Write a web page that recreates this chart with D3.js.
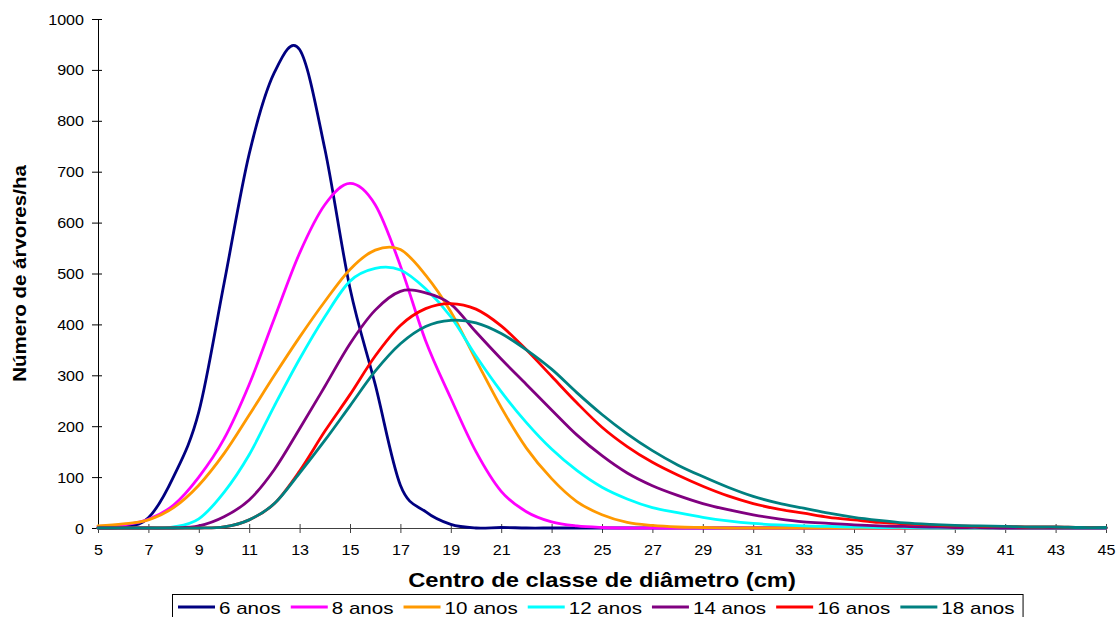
<!DOCTYPE html>
<html><head><meta charset="utf-8">
<script src="https://cdn.jsdelivr.net/npm/d3@7"></script>
<style>
body{margin:0;background:#fff;overflow:hidden}
text{font-family:"Liberation Sans",Arial,sans-serif;fill:#000}
</style>
</head><body>
<svg id="chart" width="1120" height="617"></svg>
<script>
// ---- data ----
const diameters = [5,6,7,8,9,10,11,12,13,14,15,16,17,18,19,20,21,22,23,24,25,26,27,28,29,30,31,32,33,34,35,36,37,38,39,40,41,42,43,44,45];
const seriesNames = ["6 anos","8 anos","10 anos","12 anos","14 anos","16 anos","18 anos"];
const seriesColors = ["#000080","#FF00FF","#FF9900","#00FFFF","#800080","#FF0000","#008080"];
const anos6  = [0,2,20,101,228,480,735,895,940,745,471,282,84,32,7,0,1,0,0,0,0,0,0,0,0,0,0,0,0,0,0,0,0,0,0,0,0,0,0,0,0];
const anos8  = [3,6,17,45,100,175,282,412,540,635,677,635,515,368,255,150,72,32,12,4,1,0,0,0,0,0,0,0,0,0,0,0,0,0,0,0,0,0,0,0,0];
const anos10 = [4,8,16,40,84,146,222,300,375,445,508,546,547,497,425,330,237,157,97,52,26,11,5,2,1,0,0,0,0,0,0,0,0,0,0,0,0,0,0,0,0];
const anos12 = [0,0,0,2,18,70,144,240,332,415,485,510,507,470,415,338,268,207,155,113,80,57,40,30,21,14,9,6,4,3,2,1,1,0,0,0,0,0,0,0,0];
const anos14 = [0,0,0,0,4,22,55,115,195,278,362,428,465,462,440,385,332,282,232,183,142,108,83,64,48,36,26,18,12,9,6,4,3,2,1,1,0,0,0,0,0];
const anos16 = [0,0,0,0,0,2,16,48,112,190,262,338,398,431,441,430,397,350,298,246,198,160,129,104,82,63,48,37,29,21,16,11,8,6,4,3,3,2,2,1,1];
const anos18 = [0,0,0,0,0,2,16,48,108,172,240,308,362,396,408,403,382,350,312,266,223,185,152,124,101,80,62,49,39,29,21,15,10,7,5,4,3,2,2,1,1];
const seriesValues = [anos6,anos8,anos10,anos12,anos14,anos16,anos18];
const xTickValues = [5,7,9,11,13,15,17,19,21,23,25,27,29,31,33,35,37,39,41,43,45];
const yTickValues = [0,100,200,300,400,500,600,700,800,900,1000];
const xTitle = "Centro de classe de diâmetro (cm)";
const yTitle = "Número de árvores/ha";

// ---- layout ----
const svg = d3.select("#chart");
const plot = {left:98, right:1106, top:19, bottom:528};
const x = d3.scaleLinear().domain([5,45]).range([plot.left, plot.right]);
const y = d3.scaleLinear().domain([0,1000]).range([plot.bottom, plot.top]);

function stretch(sel, f){
  sel.each(function(){
    const w = this.getComputedTextLength();
    d3.select(this).attr("textLength", w*f).attr("lengthAdjust","spacingAndGlyphs");
  });
}

// y axis
const yAxis = svg.append("g").attr("transform",`translate(${plot.left},0)`)
  .call(d3.axisLeft(y).tickValues(yTickValues).tickFormat(d3.format("d")).tickSizeInner(6).tickSizeOuter(0).tickPadding(8));
yAxis.select(".domain").attr("stroke","#000").attr("stroke-width",1);
yAxis.selectAll(".tick line").attr("x1",4).attr("x2",-6).attr("stroke","#000");
yAxis.selectAll(".tick text").attr("font-size",14).attr("font-family","Liberation Sans, Arial, sans-serif").attr("fill","#000").attr("dy","0.36em");
stretch(yAxis.selectAll(".tick text"),1.15);

// x axis
const xAxis = svg.append("g").attr("transform",`translate(0,${plot.bottom})`)
  .call(d3.axisBottom(x).tickValues(xTickValues).tickFormat(d3.format("d")).tickSizeInner(5).tickSizeOuter(0).tickPadding(12));
xAxis.select(".domain").attr("stroke","#404040").attr("stroke-width",1);
xAxis.selectAll(".tick line").attr("y1",-4).attr("y2",5).attr("stroke","#404040");
xAxis.selectAll(".tick text").attr("font-size",14).attr("font-family","Liberation Sans, Arial, sans-serif").attr("fill","#000");
stretch(xAxis.selectAll(".tick text"),1.15);

// lines
const line = d3.line().x((d,i)=>x(diameters[i])).y(d=>y(d)).curve(d3.curveCatmullRom.alpha(0));
seriesValues.forEach((vals,k)=>{
  svg.append("path").datum(vals)
    .attr("d",line).attr("fill","none")
    .attr("stroke",seriesColors[k]).attr("stroke-width",2.8)
    .attr("stroke-linejoin","round").attr("stroke-linecap","round");
});

// titles
const xt = svg.append("text").attr("x",(plot.left+plot.right)/2).attr("y",587)
  .attr("text-anchor","middle").attr("font-size",21).attr("font-weight","bold").text(xTitle);
stretch(xt,1.13);
const yt = svg.append("text").attr("transform",`translate(26,${(plot.top+plot.bottom)/2}) rotate(-90)`)
  .attr("text-anchor","middle").attr("font-size",19).attr("font-weight","bold").text(yTitle);
stretch(yt,1.08);

// legend
const leg = svg.append("g");
const legBox = leg.append("rect").attr("fill","#fff").attr("stroke","#000").attr("stroke-width",1);
let cx = 178;
seriesNames.forEach((name,k)=>{
  leg.append("line").attr("x1",cx).attr("x2",cx+37).attr("y1",607).attr("y2",607)
    .attr("stroke",seriesColors[k]).attr("stroke-width",3);
  const t = leg.append("text").attr("x",cx+41).attr("y",614).attr("font-size",17).text(name);
  stretch(t,1.21);
  const w = +t.attr("textLength");
  cx = cx + 41 + w + 10;
});
legBox.attr("x",172.5).attr("y",594.5).attr("width",cx-172-2).attr("height",40);
</script>
</body></html>
